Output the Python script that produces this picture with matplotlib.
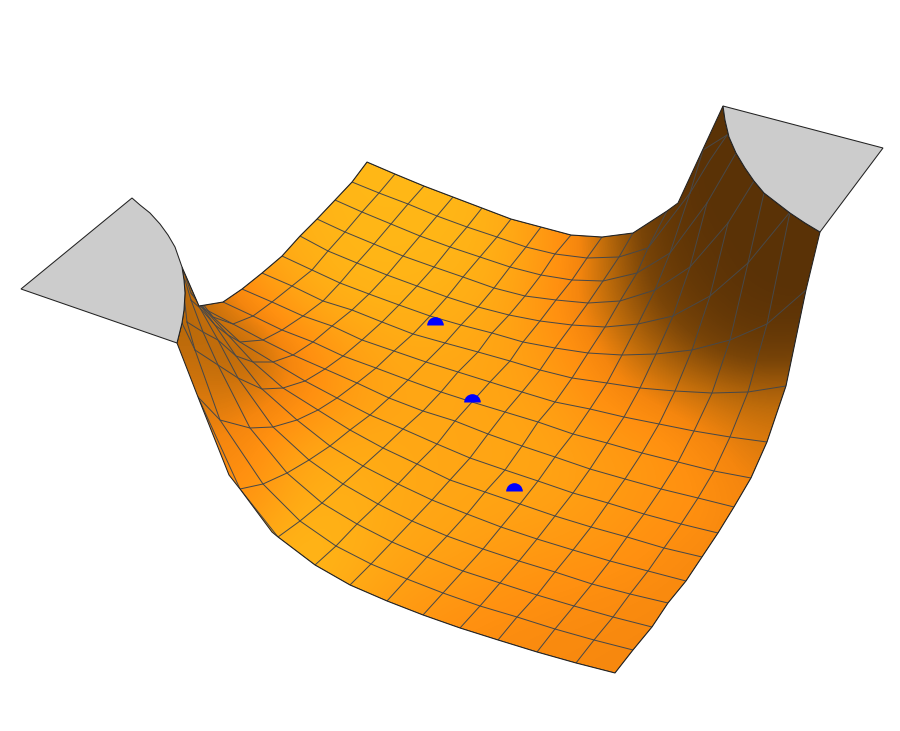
import numpy as np
import matplotlib
matplotlib.use('Agg')
import matplotlib.pyplot as plt
from matplotlib.colors import LinearSegmentedColormap
from matplotlib.patches import Polygon
from matplotlib.path import Path

n = np.nan

# mesh crossings, in pixels. one row per line of the first
# family (front edge to back edge), one column per line of the second family
mesh_x = [
    [615, 576, 537, 498, 460, 423, 387, 350, 315, 278, 240, 198, n, n, n, n, n],
    [633, 594, 555, 517, 480, 443, 407, 371, 336, 300, 263, 220, 195, 187, n, n, n],
    [652, 613, 574, 537, 500, 463, 427, 392, 357, 322, 287, 250, 218, 203, 191, n, n],
    [668, 630, 592, 555, 519, 483, 447, 412, 378, 343, 309, 273, 238, 218, 200, 184, n],
    [686, 648, 610, 573, 537, 501, 467, 432, 398, 363, 330, 297, 262, 236, 215, 191, n],
    [702, 664, 627, 591, 555, 520, 485, 450, 417, 383, 350, 318, 283, 253, 228, 205, 186],
    [718, 681, 644, 608, 573, 538, 505, 470, 437, 403, 370, 337, 305, 273, 240, 213, 192],
    [734, 698, 661, 625, 590, 555, 522, 488, 455, 423, 389, 357, 325, 293, 263, 233, 199],
    [751, 714, 678, 642, 607, 573, 538, 505, 472, 441, 408, 376, 343, 313, 282, 253, 223],
    [767, 730, 694, 659, 624, 590, 555, 522, 490, 458, 426, 394, 362, 332, 303, 272, 242],
    [786, 748, 712, 675, 640, 607, 572, 540, 510, 478, 445, 413, 382, 352, 323, 292, 262],
    [806, 767, 730, 692, 656, 622, 588, 555, 523, 492, 461, 430, 399, 369, 340, 312, 282],
    [n, 790, 748, 710, 673, 638, 605, 572, 540, 509, 478, 447, 417, 387, 357, 328, 300],
    [n, n, n, 728, 690, 655, 620, 588, 556, 525, 494, 463, 434, 403, 374, 345, 317],
    [n, n, n, n, 707, 670, 637, 603, 572, 541, 510, 480, 450, 420, 391, 362, 335],
    [n, n, n, n, n, 690, 648, 619, 587, 555, 526, 497, 467, 437, 408, 379, 352],
    [n, n, n, n, n, n, 667, 633, 602, 571, 541, 511, 482, 453, 424, 395, 367],
]
mesh_y = [
    [673, 663, 652, 640, 628, 615, 601, 585, 565, 537, 489, 397, n, n, n, n, n],
    [650, 640, 629, 617, 606, 593, 579, 564, 546, 521, 484, 420, 350, 322, n, n, n],
    [627, 617, 606, 595, 583, 571, 557, 542, 524, 503, 473, 428, 365, 332, 300, n, n],
    [603, 594, 584, 572, 561, 549, 536, 521, 504, 484, 460, 427, 378, 340, 308, 272, n],
    [581, 571, 561, 550, 539, 527, 514, 500, 484, 466, 446, 420, 389, 356, 325, 293, n],
    [557, 548, 537, 527, 516, 504, 492, 480, 464, 448, 430, 410, 388, 362, 335, 310, 275],
    [533, 524, 514, 503, 493, 481, 470, 458, 444, 429, 415, 398, 381, 362, 342, 317, 290],
    [507, 498, 489, 479, 469, 457, 446, 434, 421, 411, 398, 383, 369, 355, 340, 324, 306],
    [478, 471, 462, 453, 443, 434, 422, 412, 402, 392, 380, 368, 356, 342, 330, 316, 302],
    [442, 437, 431, 424, 417, 409, 402, 392, 382, 372, 362, 351, 340, 326, 316, 302, 289],
    [386, 392, 393, 391, 388, 383, 378, 370, 361, 352, 343, 334, 322, 310, 301, 286, 273],
    [290, 324, 340, 350, 354, 355, 353, 348, 342, 333, 325, 316, 305, 294, 283, 270, 256],
    [n, 212, 263, 296, 316, 324, 327, 325, 321, 315, 307, 297, 286, 275, 263, 251, 236],
    [n, n, n, 223, 267, 290, 301, 303, 300, 296, 288, 277, 267, 256, 244, 232, 219],
    [n, n, n, n, 203, 253, 273, 281, 280, 275, 267, 257, 247, 236, 224, 212, 200],
    [n, n, n, n, n, 193, 248, 257, 258, 254, 247, 237, 227, 216, 204, 193, 182],
    [n, n, n, n, n, n, 211, 233, 237, 235, 227, 219, 208, 197, 186, 174, 162],
]

# short ends of the mesh lines running up to the clipped rims
tails_x = [[690, 710, 727], [690, 703, 727], [707, 736], [728, 754], [748, 764],
           [187, 184], [191, 185], [195, 182]]
tails_y = [[193, 160, 135], [193, 150, 135], [203, 153], [223, 181], [263, 193],
           [322, 295], [300, 280], [350, 323]]

# the two clipped rims, shared by the surface and the grey caps
rim_right_x = [723, 725, 729, 736, 745, 754, 764, 777, 790, 805, 820]
rim_right_y = [106, 120, 137, 153, 168, 181, 193, 203, 213, 223, 232]
rim_left_x = [132, 140, 150, 160, 168, 175, 182, 184, 185, 184, 182, 177]
rim_left_y = [198, 205, 213, 224, 235, 247, 267, 280, 293, 310, 323, 343]

# rest of the surface outline
back_x = [199, 223, 242, 262, 282, 300, 317, 335, 352, 367, 395, 424, 453, 482, 511,
          541, 571, 602, 633, 667, 678]
back_y = [306, 302, 289, 273, 256, 236, 219, 200, 182, 162, 174, 186, 197, 208, 219,
          227, 235, 237, 233, 211, 203]
front_x = [806, 786, 767, 751, 734, 718, 702, 686, 668, 652, 633, 615,
           576, 537, 498, 460, 423, 387, 350, 315, 278, 272, 240, 229, 198]
front_y = [290, 386, 442, 478, 507, 533, 557, 581, 603, 627, 650, 673,
           663, 652, 640, 628, 615, 601, 585, 565, 537, 532, 489, 475, 397]

# outer corners of the grey caps
cap_left_x = [21]
cap_left_y = [289]
cap_right_x = [883]
cap_right_y = [148]

# blue points
dots_x = [435, 472, 514]
dots_y = [325, 402, 491]

# brightness of the surface, sampled every 50 px
shade_xs = [150, 200, 250, 300, 350, 400, 450, 500, 550, 600, 650, 700, 750, 800, 850]
shade_ys = [100, 150, 200, 250, 300, 350, 400, 450, 500, 550, 600, 650, 700]
shade = [
    [95, 95, 95, 95, 100, 100, 100, 100, 60, 30, 5, 0, 0, 0, 0],
    [95, 95, 95, 95, 100, 100, 100, 95, 60, 30, 5, 0, 0, 0, 0],
    [30, 40, 85, 95, 99, 99, 99, 92, 65, 35, 6, 0, 0, 0, 0],
    [30, 35, 80, 92, 98, 98, 97, 90, 68, 40, 8, 2, 0, 0, 0],
    [30, 32, 55, 82, 94, 95, 92, 85, 62, 38, 15, 4, 1, 0, 0],
    [35, 35, 27, 52, 75, 85, 85, 80, 68, 50, 30, 15, 6, 8, 8],
    [42, 42, 45, 52, 72, 82, 82, 80, 75, 60, 50, 42, 35, 35, 35],
    [50, 50, 55, 80, 88, 85, 82, 82, 80, 72, 68, 55, 45, 42, 42],
    [60, 60, 62, 90, 92, 85, 82, 80, 78, 72, 65, 62, 50, 48, 48],
    [80, 80, 85, 100, 92, 82, 78, 72, 68, 65, 60, 54, 50, 50, 50],
    [90, 90, 95, 95, 85, 72, 66, 62, 58, 56, 54, 52, 52, 52, 52],
    [75, 75, 75, 75, 70, 64, 58, 55, 54, 53, 52, 52, 52, 52, 52],
    [60, 60, 60, 60, 60, 58, 55, 54, 53, 52, 52, 52, 52, 52, 52],
]

surface_cmap = LinearSegmentedColormap.from_list('surface', [
    (0.00, '#5a3206'),
    (0.15, '#7a4508'),
    (0.35, '#bf6c0b'),
    (0.50, '#f5860e'),
    (0.60, '#ff9010'),
    (0.75, '#ff9f13'),
    (1.00, '#ffb817'),
])

line_col = '#484848'

fig = plt.figure(figsize=(9, 7.31), dpi=100)
ax = fig.add_axes([0, 0, 1, 1])

# shading first, cut to the outline
img = ax.imshow(shade, cmap=surface_cmap, vmin=0, vmax=100, aspect='auto',
                interpolation='bicubic', interpolation_stage='data',
                extent=(shade_xs[0] - 25, shade_xs[-1] + 25, shade_ys[-1] + 25, shade_ys[0] - 25))
# back edge, right rim, front edge, then the lower part of the left rim going up
outline_x = back_x + rim_right_x + front_x + rim_left_x[:5:-1]
outline_y = back_y + rim_right_y + front_y + rim_left_y[:5:-1]
surface = Polygon(np.column_stack([outline_x, outline_y]), closed=True,
                  facecolor='none', edgecolor='#222222', linewidth=0.75, zorder=4)
ax.add_patch(surface)
img.set_clip_path(surface)

# mesh, kept inside the outline
mesh_x = np.array(mesh_x, dtype=float)
mesh_y = np.array(mesh_y, dtype=float)
mesh_lines = ax.plot(mesh_x, mesh_y, color=line_col, lw=0.72, zorder=2)
mesh_lines += ax.plot(mesh_x.T, mesh_y.T, color=line_col, lw=0.72, zorder=2)
for tx, ty in zip(tails_x, tails_y):
    mesh_lines += ax.plot(tx, ty, color=line_col, lw=0.72, zorder=2)
for line in mesh_lines:
    line.set_clip_path(surface)

# caps
caps = [(cap_left_x + rim_left_x, cap_left_y + rim_left_y),
        (cap_right_x + rim_right_x[::-1], cap_right_y + rim_right_y[::-1])]
for cx, cy in caps:
    ax.add_patch(Polygon(np.column_stack([cx, cy]), closed=True, facecolor='#cccccc',
                         edgecolor='#222222', linewidth=0.75, zorder=5))

# half discs, flat side down
half_disc = Path.wedge(0, 180)
ax.scatter(dots_x, dots_y, marker=half_disc, s=144, color='#0000ff', linewidths=0, zorder=6)

ax.set_xlim(0, 900)
ax.set_ylim(731, 0)
ax.axis('off')

fig.savefig('out.png', dpi=100)
